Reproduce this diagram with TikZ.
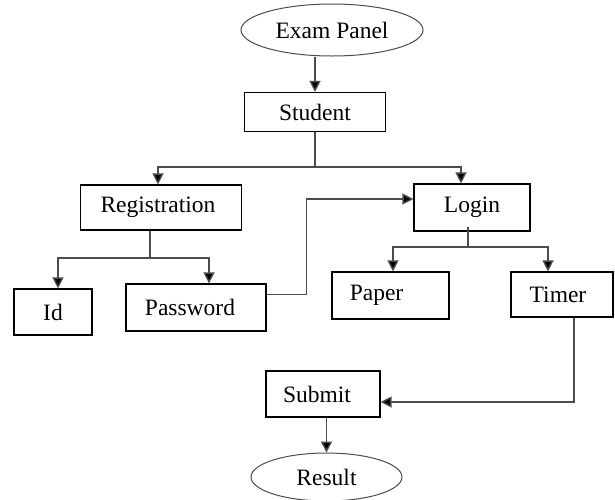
\documentclass[tikz,border=0pt]{standalone}
\usepackage{fontspec}
\setmainfont{Liberation Serif}
\usetikzlibrary{arrows.meta,shapes.geometric}
\begin{document}
\begin{tikzpicture}[x=1pt,y=-1pt,
    box/.style={draw,line width=1.2pt,inner sep=0pt,font=\fontsize{23.5}{27}\selectfont},
    oval/.style={ellipse,draw=black!70,line width=1pt,inner sep=0pt,font=\fontsize{23.5}{27}\selectfont},
    arr/.style={draw=black!70,line width=1.4pt,-{Triangle[length=11pt,width=11pt,fill=black]}}]
  \useasboundingbox (0,0) rectangle (615,499);

  \node [oval,minimum width=182pt,minimum height=52pt] (panel) at (332,30) {Exam Panel};
  \node [box,minimum width=141pt,minimum height=39pt] (student) at (315,112) {Student};
  \node [box,minimum width=161pt,minimum height=45pt] (reg) at (161,207.5) {Registration\kern6pt};
  \node [box,minimum width=116pt,minimum height=47pt] (login) at (472,207.5) {Login};
  \node [box,minimum width=78pt,minimum height=46pt] (id) at (53,312) {Id};
  \node [box,minimum width=140pt,minimum height=47pt] (pass) at (196,307.5) {Password\kern12pt};
  \node [box,minimum width=117pt,minimum height=47pt] (paper) at (390.5,295.5) {Paper\kern28pt};
  \node [box,minimum width=102pt,minimum height=45pt] (timer) at (562,294.5) {Timer\kern8pt};
  \node [box,minimum width=114pt,minimum height=46pt] (submit) at (323,394) {Submit\kern12pt};
  \node [oval,minimum width=151pt,minimum height=48pt] (result) at (326.5,477) {Result};

  \coordinate (sjoin) at (315,167);
  \coordinate (rjoin) at (150,258);
  \coordinate (ljoin) at (468,247);

  \draw [arr] (panel.south -| student.north) -- (student.north);
  \draw [arr,-] (student.south) -- (sjoin);
  \draw [arr] (sjoin) -| ([xshift=-3pt]reg.north);
  \draw [arr] (sjoin) -| ([xshift=-11pt]login.north);

  \draw [arr,-] (reg.south -| rjoin) -- (rjoin);
  \draw [arr] (rjoin) -| ([xshift=5pt]id.north);
  \draw [arr] (rjoin) -| ([xshift=13pt]pass.north);

  \draw [arr] ([yshift=13pt]pass.east) -- ++(40,0) |- ([yshift=8.5pt]login.west);

  \draw [arr,-] ([yshift=5pt]login.south -| ljoin) -- (ljoin);
  \draw [arr] (ljoin) -| ([xshift=2.5pt]paper.north);
  \draw [arr] (ljoin) -| ([xshift=-14pt]timer.north);

  \draw [arr] ([xshift=12pt]timer.south) |- ([yshift=-8pt]submit.east);
  \draw [arr] (submit.south -| result.north) -- (result.north);
\end{tikzpicture}
\end{document}
